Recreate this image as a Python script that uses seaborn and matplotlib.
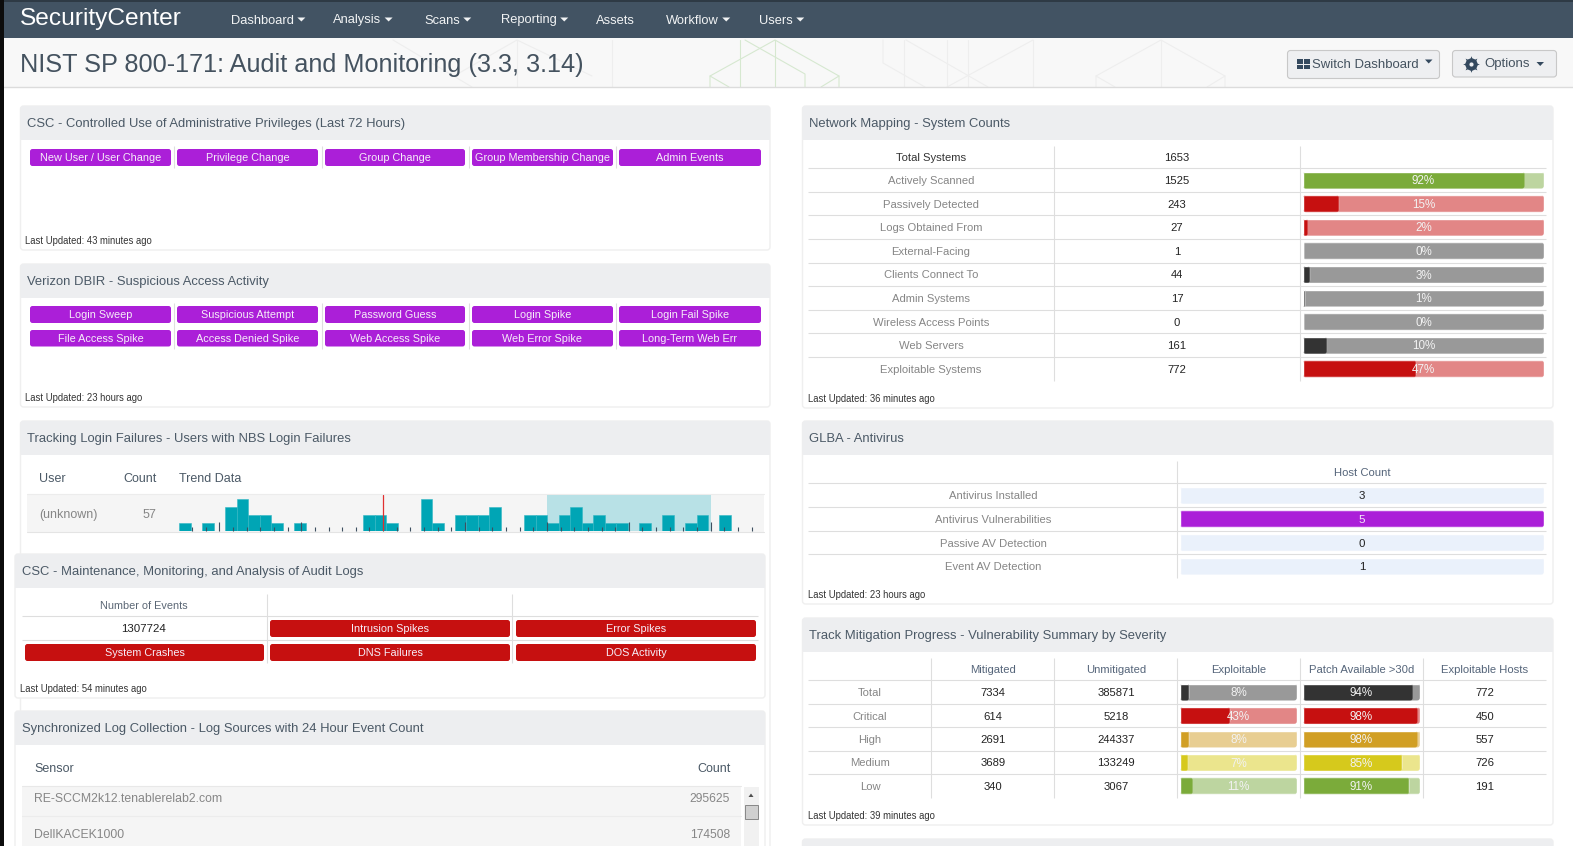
import numpy as np
import pandas as pd
import matplotlib
matplotlib.use('Agg')
import matplotlib.pyplot as plt
import seaborn as sns
from matplotlib.patches import FancyBboxPatch, Rectangle, Polygon
from matplotlib.transforms import IdentityTransform

# Data
nav_items = ['Dashboard', 'Analysis', 'Scans', 'Reporting', 'Assets', 'Workflow', 'Users']
page_title = 'NIST SP 800-171: Audit and Monitoring (3.3, 3.14)'

admin_labels = ['New User / User Change', 'Privilege Change', 'Group Change', 'Group Membership Change', 'Admin Events']
dbir_row1 = ['Login Sweep', 'Suspicious Attempt', 'Password Guess', 'Login Spike', 'Login Fail Spike']
dbir_row2 = ['File Access Spike', 'Access Denied Spike', 'Web Access Spike', 'Web Error Spike', 'Long-Term Web Err']

trend_counts = [1, 0, 1, 0, 3, 4, 2, 2, 1, 0, 1, 0, 0, 0, 0, 0, 2, 2, 1, 0, 0, 4, 1, 0, 2,
                2, 2, 3, 0, 0, 2, 2, 1, 2, 3, 1, 2, 1, 1, 0, 1, 0, 2, 0, 1, 2, 0, 2, 0, 0]

audit_labels = ['Intrusion Spikes', 'Error Spikes', 'System Crashes', 'DNS Failures', 'DOS Activity']
audit_events = 1307724

sensors = ['RE-SCCM2k12.tenablerelab2.com', 'DellKACEK1000']
sensor_counts = [295625, 174508]

net_rows = ['Total Systems', 'Actively Scanned', 'Passively Detected', 'Logs Obtained From', 'External-Facing',
            'Clients Connect To', 'Admin Systems', 'Wireless Access Points', 'Web Servers', 'Exploitable Systems']
net_counts = [1653, 1525, 243, 27, 1, 44, 17, 0, 161, 772]
net_pct = [92, 15, 2, 0, 3, 1, 0, 10, 47]

av_rows = ['Antivirus Installed', 'Antivirus Vulnerabilities', 'Passive AV Detection', 'Event AV Detection']
av_counts = [3, 5, 0, 1]

sev_rows = ['Total', 'Critical', 'High', 'Medium', 'Low']
sev_mitigated = [7334, 614, 2691, 3689, 340]
sev_unmitigated = [385871, 5218, 244337, 133249, 3067]
sev_exploitable = [8, 43, 8, 7, 11]
sev_patch = [94, 98, 98, 85, 91]
sev_hosts = [772, 450, 557, 726, 191]

# Colours
PURPLE = '#ab1fd8'
RED = '#c61010'
GRID = '#dedede'
GREY_TXT = '#868686'
DARK_TXT = '#222222'
HEAD_TXT = '#55657a'
net_dark = ['#7bab3a', RED, RED, '#333333', '#333333', '#333333', '#333333', '#333333', RED]
net_light = ['#bdd5a0', '#e28686', '#e28686', '#999999', '#999999', '#999999', '#999999', '#999999', '#e28686']
sev_dark = ['#333333', RED, '#d19f24', '#d6c91c', '#7bab3a']
sev_light = ['#999999', '#e28686', '#e8ce92', '#ebe58d', '#bdd5a0']

W, H = 1573, 846
sns.set_theme(style='white')
plt.rcParams['font.family'] = ['Liberation Sans', 'DejaVu Sans']

fig = plt.figure(figsize=(W / 100, H / 100), dpi=100)
fig.patch.set_facecolor('white')
ax = fig.add_axes([0, 0, 1, 1])
ax.set_xlim(0, W)
ax.set_ylim(H, 0)
ax.axis('off')


def px_axes(x0, y0, x1, y1):
    a = fig.add_axes([x0 / W, 1 - y1 / H, (x1 - x0) / W, (y1 - y0) / H])
    a.patch.set_alpha(0)
    return a


def px(size):
    return size * 0.72


def rect(x0, y0, x1, y1, color, z=1):
    ax.add_patch(Rectangle((x0, y0), x1 - x0, y1 - y0, fc=color, ec='none', zorder=z))


def tile(x0, y0, x1, y1, color, label):
    ax.add_patch(FancyBboxPatch((x0, y0), x1 - x0, y1 - y0, boxstyle='round,pad=0,rounding_size=2.5',
                                fc=color, ec='none', zorder=3))
    ax.text((x0 + x1) / 2, (y0 + y1) / 2 + 0.8, label, color='#f6eef8', fontsize=px(10.9), ha='center', va='center', zorder=4)


def panel(x0, y0, x1, y1, title, updated=None):
    ax.add_patch(FancyBboxPatch((x0, y0), x1 - x0, y1 - y0, boxstyle='round,pad=0,rounding_size=3',
                                fc='white', ec='#efefef', lw=1, zorder=1))
    ax.add_patch(FancyBboxPatch((x0, y0), x1 - x0, 34, boxstyle='round,pad=0,rounding_size=3',
                                fc='#edeef0', ec='none', zorder=2))
    rect(x0, y0 + 28, x1, y0 + 34, '#edeef0', z=2)
    ax.text(x0 + 6.5, y0 + 18, title, color='#4b5966', fontsize=px(13), va='center', zorder=3)
    if updated:
        ax.text(x0 + (6 if x0 > 800 else 4.5), y1 - 9, 'Last Updated: ' + updated, color='#333333', fontsize=px(9.55), va='center', zorder=3)


def hline(x0, x1, y):
    ax.plot([x0, x1], [y, y], color=GRID, lw=0.8, zorder=2, solid_capstyle='butt')


def vline(x, y0, y1):
    ax.plot([x, x], [y0, y1], color=GRID, lw=0.8, zorder=2, solid_capstyle='butt')


def cell(x, y, s, color=DARK_TXT, size=11.2):
    ax.text(x, y + 1, str(s), color=color, fontsize=px(size), ha='center', va='center', zorder=3)


def round_bars(a, radius=3):
    fig.canvas.draw()
    for bar in a.patches:
        (bx0, by0), (bx1, by1) = a.transData.transform(bar.get_bbox().get_points())
        if abs(bx1 - bx0) < 0.01:
            continue
        clip = FancyBboxPatch((min(bx0, bx1), min(by0, by1)), abs(bx1 - bx0), abs(by1 - by0),
                              boxstyle='round,pad=0,rounding_size=%f' % min(radius, abs(bx1 - bx0) / 2),
                              transform=IdentityTransform())
        bar.set_clip_path(clip)


def pct_bars(x0, x1, y0, y1, rows, pct, dark, light, bar_h=17.0):
    n = len(rows)
    df = pd.DataFrame({'row': rows, 'pct': pct, 'full': [100] * n})
    a = px_axes(x0, y0, x1, y1)
    w = bar_h / ((y1 - y0) / n)
    sns.barplot(data=df, x='full', y='row', hue='row', palette=light, legend=False, dodge=False,
                width=w, saturation=1, order=rows, hue_order=rows, ax=a)
    sns.barplot(data=df, x='pct', y='row', hue='row', palette=dark, legend=False, dodge=False,
                width=w, saturation=1, order=rows, hue_order=rows, ax=a)
    a.set_xlim(0, 100)
    a.set_ylim(n - 0.5, -0.5)
    a.axis('off')
    for i, p in enumerate(pct):
        a.text(50, i + 0.05, '%d%%' % p, color='#f2f2f2', fontsize=px(11.6), ha='center', va='center', zorder=5)
    round_bars(a)


# Page chrome
rect(0, 0, W, 2, '#2e3a45')
rect(0, 2, W, 38, '#425363')
rect(0, 38, W, 87, '#f8f8f8')
ax.plot([0, W], [87.5, 87.5], color='#dcdcdc', lw=1, zorder=2)

# Faint hexagon pattern in the page header
for seg in [[(710, 87), (710, 76), (775, 40), (839, 76), (839, 87)], [(775, 40), (775, 87)], [(740, 40), (740, 87)],
            [(745, 40), (805, 74), (805, 87)], [(710, 76), (729, 87)], [(839, 76), (821, 87)]]:
    ax.plot(*zip(*seg), color='#d6e8d0', lw=0.8, zorder=1.5)
for seg in [[(612, 40), (612, 87)], [(883, 40), (883, 63), (925, 87)], [(904, 40), (904, 87)], [(947, 40), (947, 87)],
            [(968, 40), (968, 87)], [(1033, 40), (1033, 87)], [(906, 40), (988, 87)], [(1033, 40), (947, 87)],
            [(1096, 87), (1096, 76), (1161, 40), (1225, 76), (1225, 87)], [(1161, 40), (1161, 87)],
            [(1096, 76), (1115, 87)], [(1225, 76), (1207, 87)], [(517, 40), (517, 87)],
            [(454, 76), (517, 40), (592, 76)], [(393, 40), (472, 87)]]:
    ax.plot(*zip(*seg), color='#eeeeee', lw=0.8, zorder=1.5)

ax.text(20, 18.5, 'SecurityCenter', color='white', fontsize=px(24.5), va='center', zorder=3)
nav_x = [231, 333, 424, 501, 596, 666, 759]
for x, name in zip(nav_x, nav_items):
    t = ax.text(x, 20.5, name, color='#f2f4f5', fontsize=px(12.9), va='center', zorder=3)
    if name != 'Assets':
        fig.canvas.draw()
        ext = t.get_window_extent()
        cx = ext.x1 + 7.5
        ax.add_patch(Polygon([(cx - 4, 17.5), (cx + 4, 17.5), (cx, 21.5)], fc='#f2f4f5', ec='none', zorder=3))
ax.text(20, 65, page_title, color='#44525f', fontsize=px(25.2), va='center', zorder=3)

# Header buttons
ax.add_patch(FancyBboxPatch((1287.5, 50.5), 152, 28, boxstyle='round,pad=0,rounding_size=3', fc='#eeeff1', ec='#c8c8c8', lw=0.8, zorder=3))
ax.add_patch(FancyBboxPatch((1452.5, 50.5), 104, 26.5, boxstyle='round,pad=0,rounding_size=3', fc='#eeeff1', ec='#c8c8c8', lw=0.8, zorder=3))
for gx in [1297, 1304]:
    for gy in [59.5, 65]:
        rect(gx, gy, gx + 5.8, gy + 4.4, '#34495e', z=4)
ax.text(1312, 65.5, 'Switch Dashboard', color='#44525f', fontsize=px(13.1), va='center', zorder=4)
ax.add_patch(Polygon([(1425, 59.5), (1432.5, 59.5), (1428.7, 63.5)], fc='#34495e', ec='none', zorder=4))
ax.plot([1471], [63.7], marker=(8, 1, 0), ms=12, color='#34495e', mew=0, zorder=4)
ax.plot([1471], [63.7], marker='o', ms=8.8, color='#34495e', mew=0, zorder=4)
ax.plot([1471], [63.7], marker='o', ms=3, color='#eeeff1', mew=0, zorder=5)
ax.text(1484, 64.5, 'Options', color='#44525f', fontsize=px(13.1), va='center', zorder=4)
ax.add_patch(Polygon([(1536.5, 62), (1544, 62), (1540.2, 66)], fc='#34495e', ec='none', zorder=4))

# Left column panels
btn_cols = [(30, 171), (177, 318), (325, 465), (472, 613), (619, 761)]
panel(20.5, 106, 770, 250, 'CSC - Controlled Use of Administrative Privileges (Last 72 Hours)', '43 minutes ago')
for (x0, x1), name in zip(btn_cols, admin_labels):
    tile(x0, 149, x1, 166, PURPLE, name)
for x in [174, 321.5, 468.5, 616]:
    vline(x, 146, 168)

panel(20.5, 264, 770, 407, 'Verizon DBIR - Suspicious Access Activity', '23 hours ago')
for (x0, x1), name in zip(btn_cols, dbir_row1):
    tile(x0, 306, x1, 323, PURPLE, name)
for (x0, x1), name in zip(btn_cols, dbir_row2):
    tile(x0, 330, x1, 346.5, PURPLE, name)
for x in [174, 321.5, 468.5, 616]:
    vline(x, 303, 349)

panel(20.5, 421, 770, 860, 'Tracking Login Failures - Users with NBS Login Failures')
ax.text(39, 479, 'User', color='#4b5966', fontsize=px(12.5), va='center', zorder=3)
ax.text(157, 479, 'Count', color='#4b5966', fontsize=px(12.5), va='center', ha='right', zorder=3)
ax.text(179, 479, 'Trend Data', color='#4b5966', fontsize=px(12.5), va='center', zorder=3)
rect(27, 495, 764, 532, '#f5f5f5', z=2)
ax.plot([27, 764], [494.5, 494.5], color='#ececec', lw=0.8, zorder=2)
ax.plot([27, 764], [531.8, 531.8], color='#e4e4e4', lw=0.8, zorder=2.5)
ax.text(39, 515, '(unknown)', color='#868686', fontsize=px(12.5), va='center', zorder=3)
ax.text(156, 515, '57', color='#868686', fontsize=px(12.5), va='center', ha='right', zorder=3)

# Trend histogram, 57 events over 50 bins
bin_w = 11.5
tr = px_axes(179, 495, 179 + bin_w * len(trend_counts), 531)
df_trend = pd.DataFrame({'bin': np.arange(len(trend_counts)), 'count': trend_counts})
sns.barplot(data=df_trend, x='bin', y='count', color='#00a5b5', saturation=1, width=1,
            edgecolor='#33b7c4', linewidth=0.4, ax=tr)
tr.set_xlim(-0.5, len(trend_counts) - 0.5)
tr.set_ylim(0, 4.5)
tr.axvspan((547 - 179) / bin_w - 0.5, (710.7 - 179) / bin_w - 0.5, color='#b8e1e6', lw=0, zorder=0)
tr.axvline((383.3 - 179) / bin_w - 0.5, color='#e03030', lw=0.9, zorder=3)
tick_step = 13.65 / bin_w
tall = (219.3 - 179) / bin_w - 0.5 + tick_step * np.arange(0, 42, 6)
short = (219.3 - 179) / bin_w - 0.5 + tick_step * np.arange(-2, 40)
tr.set_xticks(tall)
tr.set_xticks(short, minor=True)
tr.set_yticks([])
tr.set_axisbelow(False)
tr.tick_params(axis='x', which='major', direction='in', length=px(9), width=0.8, color='#3d4f60', labelbottom=False, bottom=True)
tr.tick_params(axis='x', which='minor', direction='in', length=px(4), width=0.8, color='#3d4f60', bottom=True)
tr.set_xlabel('')
tr.set_ylabel('')
for s in tr.spines.values():
    s.set_visible(False)

panel(15, 554, 765, 698, 'CSC - Maintenance, Monitoring, and Analysis of Audit Logs', '54 minutes ago')
vline(267, 594, 663)
vline(512, 594, 663)
hline(22, 758, 616.5)
hline(22, 758, 640)
cell(143.5, 605, 'Number of Events', color='#5b6775', size=10.9)
cell(143.5, 628.5, audit_events, size=11.5)
tile(270, 620, 510, 637, RED, audit_labels[0])
tile(516, 620, 756, 637, RED, audit_labels[1])
tile(25, 644, 264, 661, RED, audit_labels[2])
tile(270, 644, 510, 661, RED, audit_labels[3])
tile(516, 644, 756, 661, RED, audit_labels[4])

panel(15, 711, 765, 860, 'Synchronized Log Collection - Log Sources with 24 Hour Event Count')
ax.text(34, 769, 'Sensor', color='#4b5966', fontsize=px(12.5), va='center', zorder=3)
ax.text(731, 769, 'Count', color='#4b5966', fontsize=px(12.5), va='center', ha='right', zorder=3)
rect(22, 786, 741, 846, '#f5f5f5', z=2)
ax.plot([22, 741], [785.8, 785.8], color='#e8e8e8', lw=0.8, zorder=2.5)
ax.plot([22, 741], [816.5, 816.5], color='#ececec', lw=0.8, zorder=2.5)
for y, s, c in zip([799, 835], sensors, sensor_counts):
    ax.text(34, y, s, color='#868686', fontsize=px(12.3), va='center', zorder=3)
    ax.text(730, y, str(c), color='#868686', fontsize=px(12), va='center', ha='right', zorder=3)
rect(744, 787, 759, 846, '#f1f1f1', z=2)
ax.add_patch(Polygon([(748.5, 797), (753.5, 797), (751, 793.5)], fc='#505050', ec='none', zorder=3))
ax.add_patch(Rectangle((744.8, 805), 13, 14.5, fc='#d0d0d0', ec='#888888', lw=0.7, zorder=3))

# Right column panels
panel(802.5, 106, 1553, 408, 'Network Mapping - System Counts', '36 minutes ago')
net_row_h = (380.7 - 168.3) / 9
net_y = [157] + [168.3 + (i + 0.5) * net_row_h for i in range(9)]
for i in range(10):
    if i < 9:
        hline(808, 1546, 168.3 + i * net_row_h)
    cell(931, net_y[i], net_rows[i], color='#333333' if i == 0 else GREY_TXT)
    cell(1177, net_y[i], net_counts[i])
vline(1053.5, 146, 380.7)
vline(1299.5, 146, 380.7)
pct_bars(1303, 1544, 168.3, 380.7, net_rows[1:], net_pct, net_dark, net_light)

panel(802.5, 421, 1553, 604, 'GLBA - Antivirus', '23 hours ago')
vline(1176.5, 461, 578)
av_row_h = (578 - 483.5) / 4
for i in range(4):
    hline(808, 1546, 483.5 + i * av_row_h)
    cell(993.5, 483.5 + (i + 0.5) * av_row_h, av_rows[i], color=GREY_TXT)
cell(1362, 472, 'Host Count', color=HEAD_TXT)
av_colors = [PURPLE if c == max(av_counts) else '#eaf1fb' for c in av_counts]
av = px_axes(1180, 483.5, 1544, 578)
sns.barplot(x=[1] * 4, y=av_rows, hue=av_rows, palette=av_colors, legend=False, dodge=False,
            width=17 / av_row_h, saturation=1, ax=av)
av.set_xlim(0, 1)
av.set_ylim(3.5, -0.5)
av.axis('off')
for i, c in enumerate(av_counts):
    av.text(0.5, i + 0.05, str(c), color='#f4e8f8' if c == max(av_counts) else DARK_TXT, fontsize=px(11.5), ha='center', va='center', zorder=5)
round_bars(av)

panel(802.5, 618, 1553, 825, 'Track Mitigation Progress - Vulnerability Summary by Severity', '39 minutes ago')
sev_row_h = (797.7 - 680.3) / 5
for x in [930.5, 1053.5, 1176.5, 1299.5, 1422.5]:
    vline(x, 658, 797.7)
for i in range(5):
    y = 680.3 + (i + 0.5) * sev_row_h
    hline(808, 1546, 680.3 + i * sev_row_h)
    cell(870, y, sev_rows[i], color=GREY_TXT)
    cell(993, y, sev_mitigated[i])
    cell(1116, y, sev_unmitigated[i])
    cell(1484.7, y, sev_hosts[i])
for x, s in zip([993, 1116, 1238.3, 1361.7, 1484.7], ['Mitigated', 'Unmitigated', 'Exploitable', 'Patch Available >30d', 'Exploitable Hosts']):
    cell(x, 669, s, color=HEAD_TXT)
pct_bars(1180, 1297, 680.3, 797.7, sev_rows, sev_exploitable, sev_dark, sev_light)
pct_bars(1303, 1420, 680.3, 797.7, sev_rows, sev_patch, sev_dark, sev_light)

# Next panel is cut off by the bottom edge
panel(802.5, 839, 1553, 880, '')

# Dark strip on the left edge of the capture
rect(0, 0, 4, H, '#0c0c0c', z=6)

fig.savefig('out.png', dpi=100)
